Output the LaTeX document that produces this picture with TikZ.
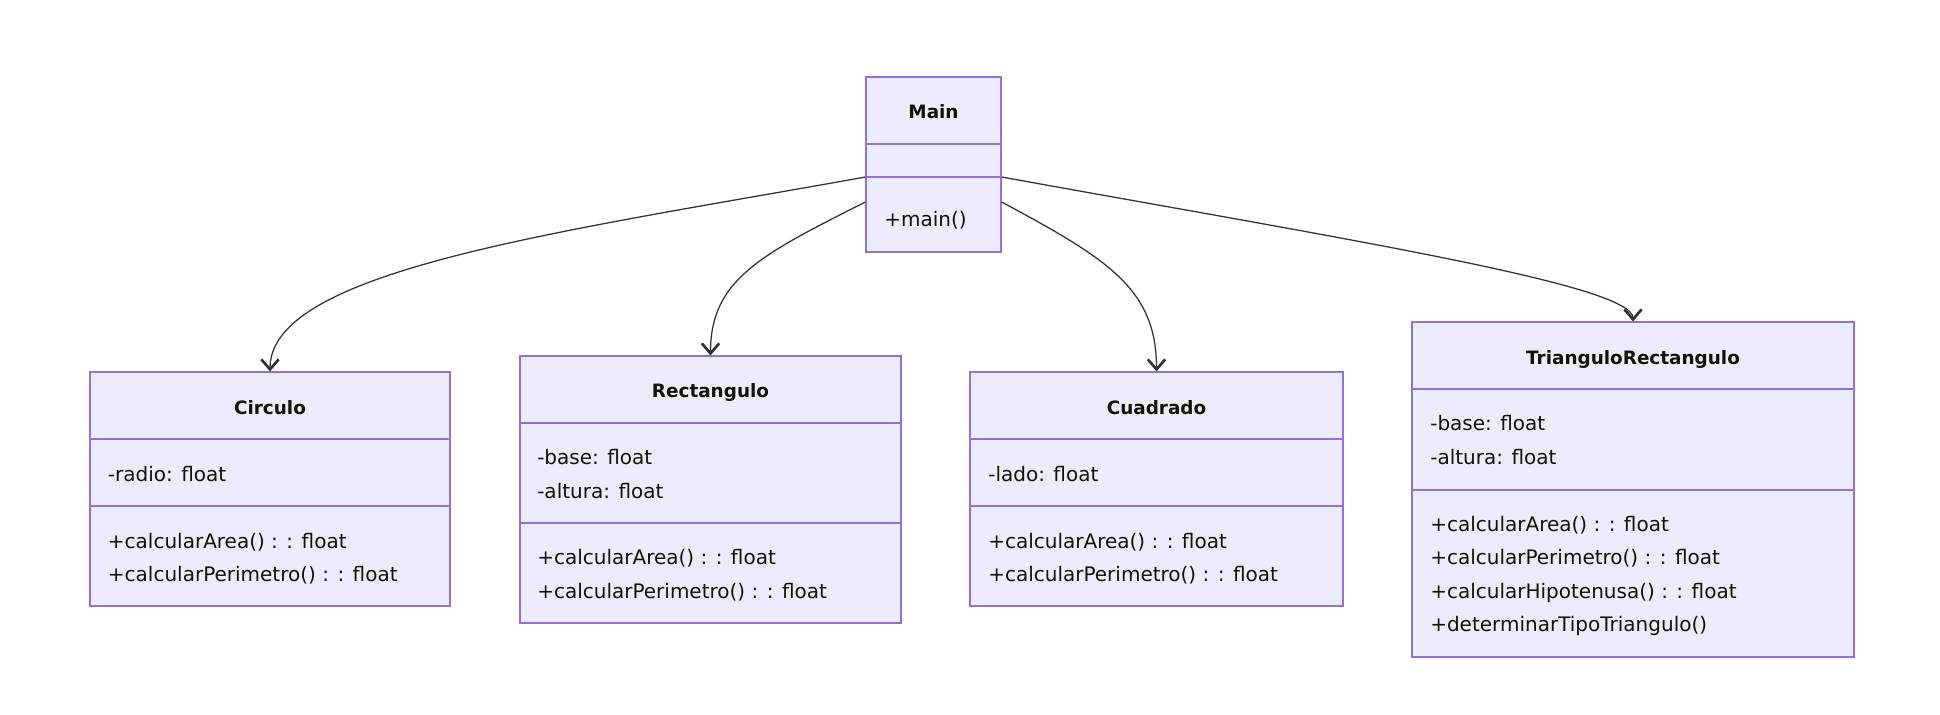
\documentclass[tikz,border=0pt]{standalone}
\usepackage{fontspec}
\setmainfont{DejaVu Sans}
\usetikzlibrary{arrows.meta}
\definecolor{classfill}{HTML}{ECECFF}
\definecolor{classline}{HTML}{9370DB}
\definecolor{edgeline}{HTML}{333333}
\definecolor{classtext}{HTML}{131300}

\begin{document}
\begin{tikzpicture}[x=0.75pt,y=-0.75pt]
\tikzstyle{every node}=[font=\fontsize{15}{18}\selectfont,text=classtext]
\tikzstyle{classbox}=[draw=classline,fill=classfill,line width=0.9pt,inner sep=0pt]
\tikzstyle{title}=[anchor=base,inner sep=0pt,font=\fontsize{13.8}{17}\selectfont\bfseries]
\tikzstyle{member}=[anchor=base west,inner sep=0pt]
\tikzstyle{divider}=[draw=classline,line width=0.9pt]
\tikzstyle{link}=[draw=edgeline,line width=0.95pt,-{Straight Barb[length=7.5pt,width=13pt,line width=2pt]}]

\useasboundingbox (0,0) rectangle (1940,714);

% class boxes
\node[classbox,minimum width=135*0.75pt,minimum height=175*0.75pt] (main) at (933.5,164.5) {};
\node[classbox,minimum width=360*0.75pt,minimum height=234*0.75pt] (circ) at (270,489) {};
\node[classbox,minimum width=381*0.75pt,minimum height=267*0.75pt] (rect) at (710.5,489.5) {};
\node[classbox,minimum width=373*0.75pt,minimum height=234*0.75pt] (cuad) at (1156.5,489) {};
\node[classbox,minimum width=442*0.75pt,minimum height=335*0.75pt] (tri) at (1633,489.5) {};

% compartments
\draw[divider] (main.west |- 0,144) -- (main.east |- 0,144);
\draw[divider] (main.west |- 0,177) -- (main.east |- 0,177);
\draw[divider] (circ.west |- 0,439) -- (circ.east |- 0,439);
\draw[divider] (circ.west |- 0,506) -- (circ.east |- 0,506);
\draw[divider] (rect.west |- 0,423) -- (rect.east |- 0,423);
\draw[divider] (rect.west |- 0,523) -- (rect.east |- 0,523);
\draw[divider] (cuad.west |- 0,439) -- (cuad.east |- 0,439);
\draw[divider] (cuad.west |- 0,506) -- (cuad.east |- 0,506);
\draw[divider] (tri.west |- 0,389) -- (tri.east |- 0,389);
\draw[divider] (tri.west |- 0,490) -- (tri.east |- 0,490);

% titles
\node[title] (main name) at (933.5,118) {Main};
\node[title] (circ name) at (270,414) {Circulo};
\node[title] (rect name) at (710.5,397) {Rectangulo};
\node[title] (cuad name) at (1156.5,414) {Cuadrado};
\node[title] (tri name) at (1633,364) {TrianguloRectangulo};

% attributes and methods
\node[member] (main m1) at (884,226) {+main()};

\node[member] (circ a1) at (107.7,481) {-radio: float};
\node[member] (circ m1) at (107.7,548) {+calcularArea() : : float};
\node[member] (circ m2) at (107.7,581.5) {+calcularPerimetro() : : float};

\node[member] (rect a1) at (537,464.5) {-base: float};
\node[member] (rect a2) at (537,498) {-altura: float};
\node[member] (rect m1) at (537,564.5) {+calcularArea() : : float};
\node[member] (rect m2) at (537,598) {+calcularPerimetro() : : float};

\node[member] (cuad a1) at (988,481) {-lado: float};
\node[member] (cuad m1) at (988,548) {+calcularArea() : : float};
\node[member] (cuad m2) at (988,581.5) {+calcularPerimetro() : : float};

\node[member] (tri a1) at (1430,430.5) {-base: float};
\node[member] (tri a2) at (1430,464) {-altura: float};
\foreach \m [count=\i] in {+calcularArea() : : float,+calcularPerimetro() : : float,
  +calcularHipotenusa() : : float,+determinarTipoTriangulo()}
	\node[member] (tri m\i) at (1430,{531+33.5*(\i-1)}) {\m};

% links from Main
\coordinate (main w1) at (main.west |- 0,177);
\coordinate (main w2) at (main.west |- 0,202);
\coordinate (main e1) at (main.east |- 0,177);
\coordinate (main e2) at (main.east |- 0,202);

\draw[link] (main w1) .. controls (560,232) and (270,270) .. (circ.north);
\draw[link] (main w2) .. controls (760,255) and (710.5,280) .. (rect.north);
\draw[link] (main e2) .. controls (1110,260) and (1156.5,290) .. (cuad.north);
\draw[link] (main e1) .. controls (1350,240) and (1633,285) .. (tri.north);
\end{tikzpicture}
\end{document}
